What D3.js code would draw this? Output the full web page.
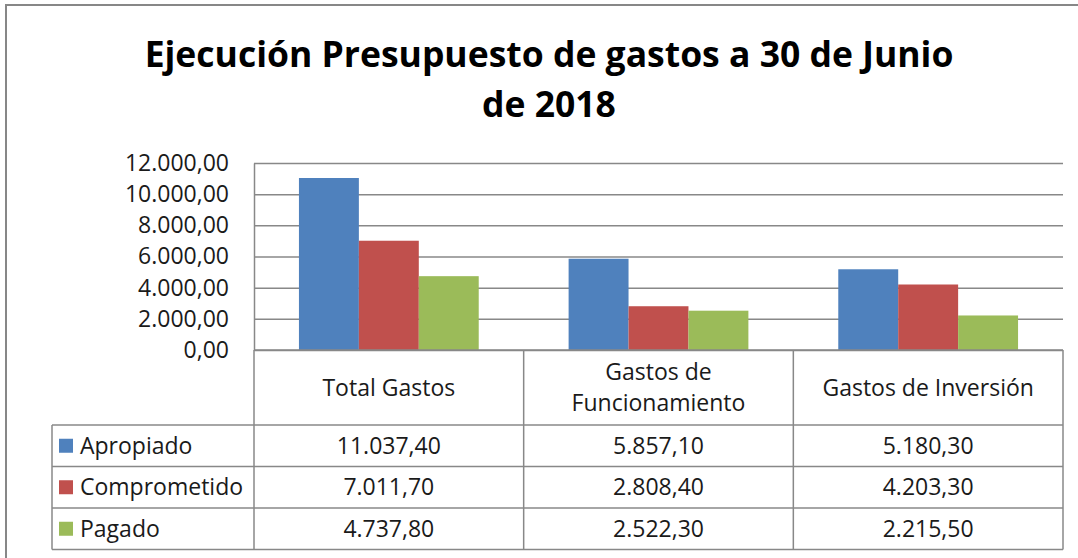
<!DOCTYPE html>
<html>
<head>
<meta charset="utf-8">
<script src="https://cdn.jsdelivr.net/npm/d3@7"></script>
<style>
  body { margin: 0; background: #fff; }
  svg { display: block; font-family: "Open Sans", sans-serif; }
</style>
</head>
<body>
<div id="container"></div>
<script>
// data
const categories = ["Total Gastos", "Gastos de Funcionamiento", "Gastos de Inversión"];
const series = ["Apropiado", "Comprometido", "Pagado"];
const apropiado = [11037.40, 5857.10, 5180.30];
const comprometido = [7011.70, 2808.40, 4203.30];
const pagado = [4737.80, 2522.30, 2215.50];
const yTicks = [0, 2000, 4000, 6000, 8000, 10000, 12000];
const colors = ["#4f81bd", "#c0504d", "#9bbb59"];

const values = [apropiado, comprometido, pagado];

const width = 1078;
const height = 558;
const plotLeft = 254, plotRight = 1063, plotTop = 163, plotBottom = 350;
const rowH = 41.5;
const headerBottom = 425;
const legendLeft = 52;
const gridColor = "#888";
const textColor = "#1a1a1a";
const fontSize = "23px";

const es = d3.formatLocale({decimal: ",", thousands: ".", grouping: [3], currency: ["", ""]});
const fmt = es.format(",.2f");

const svg = d3.select("#container")
  .append("svg")
  .attr("width", width)
  .attr("height", height);

// outer chart border
svg.append("rect")
  .attr("x", 6).attr("y", 5)
  .attr("width", width + 20).attr("height", height + 20)
  .attr("fill", "none")
  .attr("stroke", "#878787")
  .attr("stroke-width", 2);

// title
const title = svg.append("text")
  .attr("text-anchor", "middle")
  .attr("fill", "#000")
  .style("font-size", "35.5px")
  .style("font-weight", "bold");
title.append("tspan").attr("x", 549).attr("y", 67).text("Ejecución Presupuesto de gastos a 30 de Junio");
title.append("tspan").attr("x", 549).attr("y", 117).text("de 2018");

// scales
const x0 = d3.scaleBand()
  .domain(categories)
  .range([plotLeft, plotRight])
  .padding(0);

const x1 = d3.scaleBand()
  .domain(series)
  .range([0, x0.bandwidth()])
  .paddingInner(0)
  .paddingOuter(0.75);

const y = d3.scaleLinear()
  .domain([0, 12000])
  .range([plotBottom, plotTop]);

// y axis + gridlines
const yAxis = svg.append("g")
  .attr("transform", `translate(${plotLeft},0)`)
  .call(d3.axisLeft(y)
    .tickValues(yTicks)
    .tickFormat(fmt)
    .tickSizeInner(-(plotRight - plotLeft))
    .tickSizeOuter(0)
    .tickPadding(25));

yAxis.select(".domain").attr("stroke", gridColor).attr("stroke-width", 1.5);
yAxis.selectAll(".tick line").attr("stroke", gridColor).attr("stroke-width", 1.5);
yAxis.selectAll(".tick text")
  .attr("fill", textColor)
  .style("font-size", fontSize)
  .style("font-family", "'Open Sans', sans-serif");

// bars
const groups = svg.append("g")
  .selectAll("g")
  .data(categories)
  .enter()
  .append("g")
  .attr("transform", d => `translate(${x0(d)},0)`);

groups.selectAll("rect")
  .data((c, ci) => series.map((s, si) => ({s, si, v: values[si][ci]})))
  .enter()
  .append("rect")
  .attr("x", d => x1(d.s))
  .attr("y", d => y(d.v))
  .attr("width", x1.bandwidth())
  .attr("height", d => y(0) - y(d.v))
  .attr("fill", d => colors[d.si]);

// data table
const table = svg.append("g")
  .attr("stroke", gridColor)
  .attr("stroke-width", 1.5);

// header row verticals
const colEdges = categories.map(c => x0(c)).concat([plotRight]);
colEdges.forEach(xv => {
  table.append("line")
    .attr("x1", xv).attr("x2", xv)
    .attr("y1", plotBottom).attr("y2", headerBottom + rowH * 3);
});
table.append("line")
  .attr("x1", plotLeft).attr("x2", plotRight)
  .attr("y1", plotBottom).attr("y2", plotBottom);

// body rows
d3.range(4).forEach(i => {
  table.append("line")
    .attr("x1", legendLeft).attr("x2", plotRight)
    .attr("y1", headerBottom + rowH * i).attr("y2", headerBottom + rowH * i);
});
table.append("line")
  .attr("x1", legendLeft).attr("x2", legendLeft)
  .attr("y1", headerBottom).attr("y2", headerBottom + rowH * 3);

// header labels
const headerLines = [["Total Gastos"], ["Gastos de", "Funcionamiento"], ["Gastos de Inversión"]];
categories.forEach((c, i) => {
  const lines = headerLines[i];
  const cx = x0(c) + x0.bandwidth() / 2;
  const t = svg.append("text")
    .attr("text-anchor", "middle")
    .attr("fill", textColor)
    .style("font-size", fontSize);
  lines.forEach((ln, j) => {
    const by = lines.length === 1 ? 396 : 380 + j * 31;
    t.append("tspan").attr("x", cx).attr("y", by).text(ln);
  });
});

// rows: legend keys + values
series.forEach((s, si) => {
  const top = headerBottom + rowH * si;
  const mid = top + rowH / 2;
  svg.append("rect")
    .attr("x", 59).attr("y", mid - 7)
    .attr("width", 14).attr("height", 14)
    .attr("fill", colors[si]);
  svg.append("text")
    .attr("x", 80).attr("y", mid + 8)
    .attr("fill", textColor)
    .style("font-size", fontSize)
    .text(s);
  categories.forEach((c, ci) => {
    svg.append("text")
      .attr("x", x0(c) + x0.bandwidth() / 2)
      .attr("y", mid + 8)
      .attr("text-anchor", "middle")
      .attr("fill", textColor)
      .style("font-size", fontSize)
      .text(fmt(values[si][ci]));
  });
});
</script>
</body>
</html>
